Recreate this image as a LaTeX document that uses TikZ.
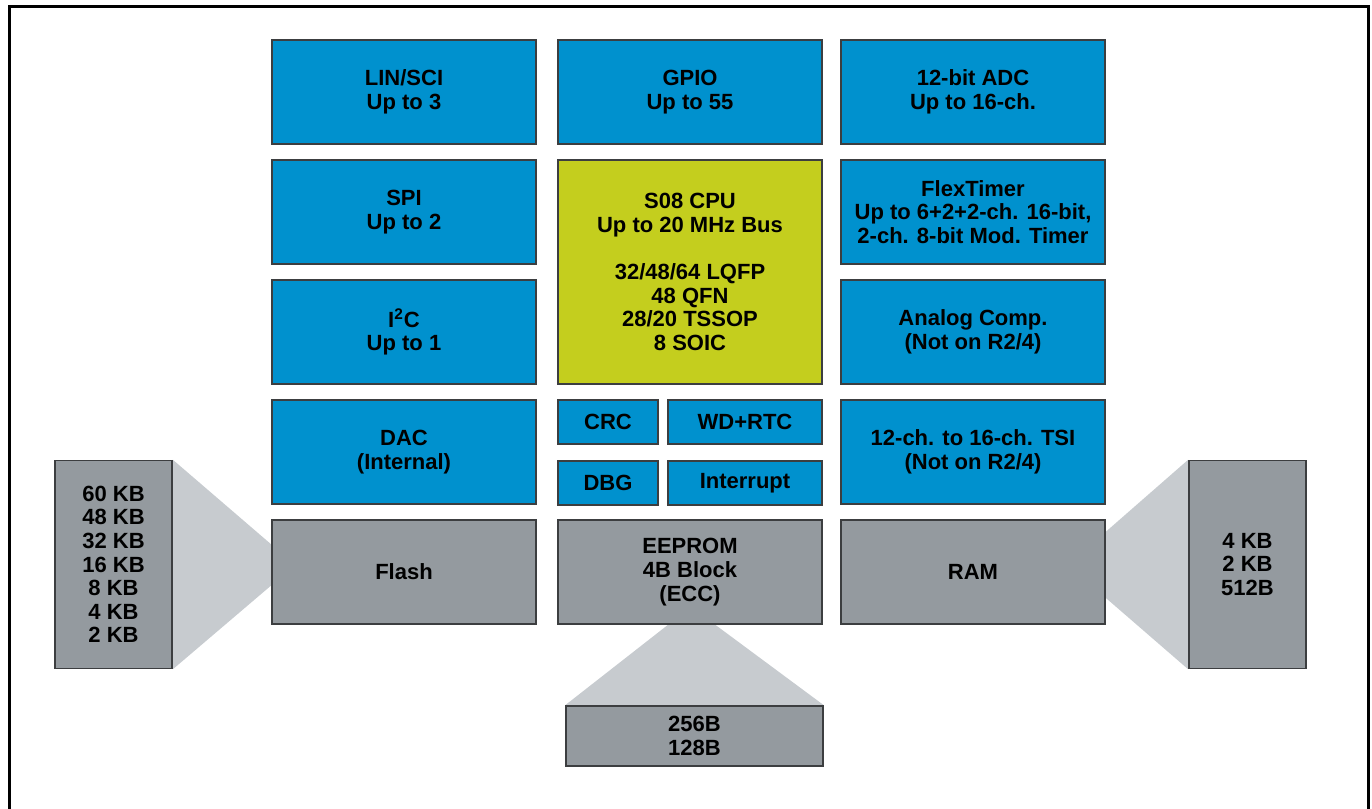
\documentclass[tikz,border=0pt]{standalone}
\usepackage{fontspec}
\setmainfont{Liberation Sans}
\usetikzlibrary{calc, backgrounds}

\definecolor{chipblue}{RGB}{0,145,206}
\definecolor{cpuyellow}{RGB}{196,206,30}
\definecolor{memgray}{RGB}{148,154,159}
\definecolor{fangray}{RGB}{199,203,207}
\definecolor{blkedge}{RGB}{60,62,64}

\tikzset{
    blk/.style={draw=blkedge, line width=0.8pt, fill=chipblue, align=center,
        inner sep=0pt, font=\bfseries\fontsize{11}{11.8}\selectfont,
        minimum width=132pt, minimum height=52pt},
    mem/.style={blk, fill=memgray},
    fan/.style={fill=fangray},
}

\begin{document}
\begin{tikzpicture}[x=0.5pt, y=-0.5pt]
    \useasboundingbox (0,0) rectangle (1372,809);
    % outer frame, open at the bottom
    \draw[line width=1.5pt] (9,809) -- (9,6) -- (1368,6) -- (1368,809);

    % peripherals
    \node[blk] (lin)  at (404,92)  {LIN/SCI\\Up to 3};
    \node[blk] (gpio) at (690,92)  {GPIO\\Up to 55};
    \node[blk] (adc)  at (973,92)  {12-bit ADC\\Up to 16-ch.};
    \node[blk] (spi)  at (404,212) {SPI\\Up to 2};
    \node[blk] (ftm)  at (973,212) {FlexTimer\\Up to 6+2+2-ch. 16-bit,\\2-ch. 8-bit Mod. Timer};
    \node[blk] (iic)  at (404,332) {I\textsuperscript{2}C\\Up to 1};
    \node[blk] (acmp) at (973,332) {Analog Comp.\\(Not on R2/4)};
    \node[blk] (dac)  at (404,452) {DAC\\(Internal)};
    \node[blk] (tsi)  at (973,452) {12-ch. to 16-ch. TSI\\(Not on R2/4)};

    % core
    \node[blk, fill=cpuyellow, minimum height=112pt] (cpu) at (690,272)
        {S08 CPU\\Up to 20 MHz Bus\\[11.8pt]32/48/64 LQFP\\48 QFN\\28/20 TSSOP\\8 SOIC};
    \node[blk, minimum width=50pt, minimum height=22pt] (crc) at (608,422) {CRC};
    \node[blk, minimum width=77pt, minimum height=22pt] (wdog) at (745,422) {WD+RTC};
    \node[blk, minimum width=50pt, minimum height=22pt] (dbg) at (608,483) {DBG};
    \node[blk, minimum width=77pt, minimum height=22pt] (irq) at (745,483) {Interrupt};

    % memories
    \node[mem] (flash)  at (404,572) {Flash};
    \node[mem] (eeprom) at (690,572) {EEPROM\\4B Block\\(ECC)};
    \node[mem] (ram)    at (973,572) {RAM};

    \node[mem, minimum width=58.5pt, minimum height=104pt] (flashsz) at (113.5,564.5)
        {60 KB\\48 KB\\32 KB\\16 KB\\8 KB\\4 KB\\2 KB};
    \node[mem, minimum width=58.5pt, minimum height=104pt] (ramsz) at (1247.5,564.5)
        {4 KB\\2 KB\\512B};
    \node[mem, minimum width=128.5pt, minimum height=30pt] (eesz) at (694.5,736)
        {256B\\128B};

    % fans behind the boxes
    \begin{pgfonlayer}{background}
        \fill[fan] (flashsz.north east) -- ($(flash.west)+(24,-7)$) -- (flashsz.south east) -- cycle;
        \fill[fan] (ramsz.north west) -- ($(ram.east)+(-38,-7)$) -- (ramsz.south west) -- cycle;
        \fill[fan] (eesz.north west) -- ($(eeprom.south)+(1,-18)$) -- (eesz.north east) -- cycle;
    \end{pgfonlayer}
\end{tikzpicture}
\end{document}
